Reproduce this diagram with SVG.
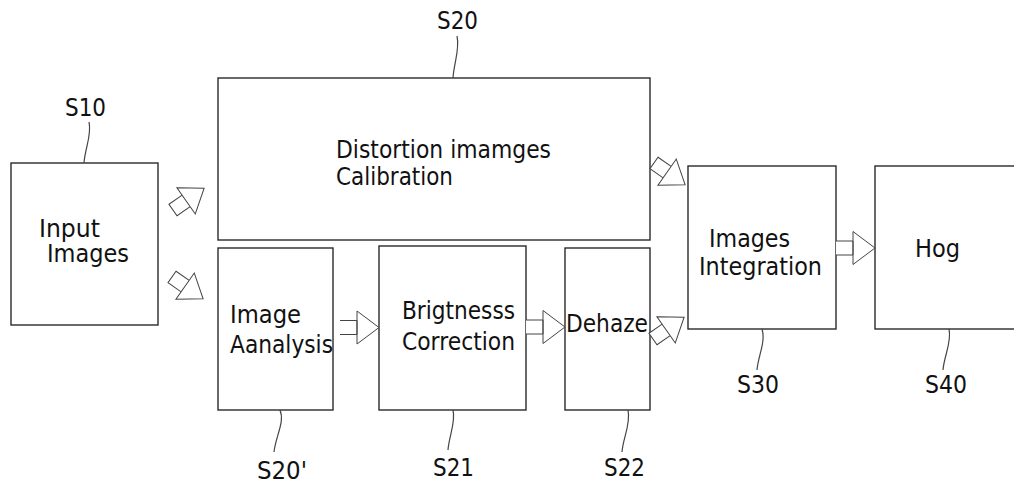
<svg xmlns="http://www.w3.org/2000/svg" width="1014" height="484" viewBox="0 0 1014 484">
<defs>
<style>
.box{fill:#fff;stroke:#2a2a2a;stroke-width:1.4}
.t{font-family:"DejaVu Sans",Verdana,sans-serif;font-size:24px;fill:#111}
.lead{fill:none;stroke:#444;stroke-width:1.2}
.arr{fill:#fff;stroke:#444;stroke-width:1}
</style>
<g id="harrow"><path class="arr" d="M0,-7 H17 V7 H0 M17,-16.5 L39,0 L17,16.5 Z"/></g>
<g id="darrow"><path class="arr" d="M0,-7 H16 V7 H0 Z M16,-16 L38,0 L16,16 Z"/></g>
</defs>
<rect width="1014" height="484" fill="#fff"/>

<g id="S10">
<rect class="box" x="11" y="163" width="147" height="162"/>
<text class="t" x="39" y="237" textLength="61" lengthAdjust="spacingAndGlyphs">Input</text>
<text class="t" x="47" y="262" textLength="82" lengthAdjust="spacingAndGlyphs">Images</text>
<path class="lead" d="M89,122 C92,135 85,148 84,163"/>
<text class="t" x="65" y="116" textLength="41" lengthAdjust="spacingAndGlyphs">S10</text>
</g>

<g id="S20">
<rect class="box" x="218" y="78" width="432" height="162"/>
<text class="t" x="336" y="158" textLength="215" lengthAdjust="spacingAndGlyphs">Distortion imamges</text>
<text class="t" x="336" y="185" textLength="117" lengthAdjust="spacingAndGlyphs">Calibration</text>
<path class="lead" d="M457,36 C460,50 454,62 453,78"/>
<text class="t" x="437" y="29" textLength="41" lengthAdjust="spacingAndGlyphs">S20</text>
</g>

<g id="S20p">
<rect class="box" x="218" y="248" width="115" height="162"/>
<text class="t" x="230" y="323" textLength="71" lengthAdjust="spacingAndGlyphs">Image</text>
<text class="t" x="230" y="353" textLength="103" lengthAdjust="spacingAndGlyphs">Aanalysis</text>
<path class="lead" d="M280,410 C285,422 276,435 274,452"/>
<text class="t" x="257" y="479" textLength="50" lengthAdjust="spacingAndGlyphs">S20'</text>
</g>

<g id="S21">
<rect class="box" x="379" y="246" width="147" height="164"/>
<text class="t" x="402" y="319" textLength="113" lengthAdjust="spacingAndGlyphs">Brigtnesss</text>
<text class="t" x="402" y="350" textLength="113" lengthAdjust="spacingAndGlyphs">Correction</text>
<path class="lead" d="M453,410 C456,422 449,436 448,450"/>
<text class="t" x="433" y="476" textLength="41" lengthAdjust="spacingAndGlyphs">S21</text>
</g>

<g id="S22">
<rect class="box" x="565" y="248" width="85" height="162"/>
<text class="t" x="566" y="332" textLength="82" lengthAdjust="spacingAndGlyphs">Dehaze</text>
<path class="lead" d="M628,410 C631,424 623,438 622,452"/>
<text class="t" x="604" y="476" textLength="41" lengthAdjust="spacingAndGlyphs">S22</text>
</g>

<g id="S30">
<rect class="box" x="688" y="166" width="148" height="163"/>
<text class="t" x="709" y="247" textLength="81" lengthAdjust="spacingAndGlyphs">Images</text>
<text class="t" x="699" y="275" textLength="123" lengthAdjust="spacingAndGlyphs">Integration</text>
<path class="lead" d="M762,329 C766,342 758,356 757,370"/>
<text class="t" x="737" y="393" textLength="42" lengthAdjust="spacingAndGlyphs">S30</text>
</g>

<g id="S40">
<rect class="box" x="875" y="166" width="150" height="163"/>
<text class="t" x="915" y="257" textLength="45" lengthAdjust="spacingAndGlyphs">Hog</text>
<path class="lead" d="M949,329 C952,342 944,356 943,370"/>
<text class="t" x="925" y="393" textLength="42" lengthAdjust="spacingAndGlyphs">S40</text>
</g>

<g id="connectors">
<use href="#darrow" transform="translate(173,210) rotate(-35)"/>
<use href="#darrow" transform="translate(172,277) rotate(35)"/>
<use href="#darrow" transform="translate(654,163) rotate(35)"/>
<use href="#darrow" transform="translate(653,339) rotate(-35)"/>
<use href="#harrow" transform="translate(340,327.5)"/>
<use href="#harrow" transform="translate(526,327)"/>
<use href="#harrow" transform="translate(836,248)"/>
</g>
</svg>
